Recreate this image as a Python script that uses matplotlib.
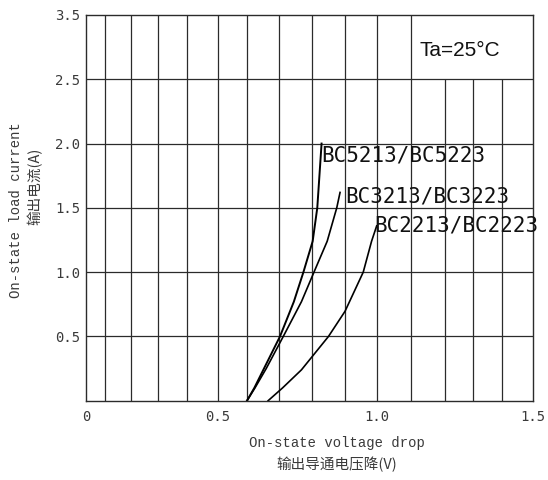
import numpy as np
import matplotlib
matplotlib.use('Agg')
import matplotlib.pyplot as plt

# 데이터 (datasheet 곡선에서 읽은 값)
volt_ticks = [0, 0.5, 1.0, 1.5]
volt_tick_labels = ['0', '0.5', '1.0', '1.5']
amp_ticks = [0.5, 1.0, 1.5, 2.0, 2.5, 3.5]
amp_tick_labels = ['0.5', '1.0', '1.5', '2.0', '2.5', '3.5']

grid_v_full = [0.072, 0.17, 0.273, 0.383, 0.5, 0.6, 0.7, 0.8, 0.9, 1.0, 1.1]
grid_v_short = [1.2, 1.3, 1.4]
grid_i = [0.5, 1.0, 1.5, 2.0, 2.5]

bc5213_v = [0.60, 0.623, 0.653, 0.703, 0.745, 0.774, 0.802, 0.816, 0.829]
bc5213_i = [0.0, 0.1, 0.25, 0.5, 0.77, 1.0, 1.24, 1.5, 2.0]
bc3213_v = [0.60, 0.625, 0.660, 0.713, 0.768, 0.806, 0.846, 0.875, 0.885]
bc3213_i = [0.0, 0.1, 0.25, 0.5, 0.77, 1.0, 1.24, 1.5, 1.62]
bc2213_v = [0.666, 0.711, 0.768, 0.850, 0.900, 0.957, 0.983, 0.999]
bc2213_i = [0.0, 0.1, 0.24, 0.5, 0.695, 1.0, 1.24, 1.36]

# 축 눈금 간격이 균일하지 않음 -> 구간별 선형 스케일
x_knots_val = [0, 0.5, 0.6, 0.7, 0.8, 0.9, 1.0, 1.1, 1.2, 1.3, 1.4, 1.5]
x_knots_pos = [0, 132, 161, 193, 226, 259, 291, 325, 359, 387, 416, 447]
y_knots_val = [0, 2.5, 3.5]
y_knots_pos = [0, 2.5, 3.0]

def fx(v):
    return np.interp(v, x_knots_val, x_knots_pos)
def fx_inv(p):
    return np.interp(p, x_knots_pos, x_knots_val)
def fy(v):
    return np.interp(v, y_knots_val, y_knots_pos)
def fy_inv(p):
    return np.interp(p, y_knots_pos, y_knots_val)

line_c = '#2b2b2b'
text_c = '#3a3a3a'

fig = plt.figure(figsize=(5.48, 4.80), dpi=100)
ax = fig.add_axes([86/548, 1 - 400.7/480, (533-86)/548, (400.7-15)/480])
ax.set_xscale('function', functions=(fx, fx_inv))
ax.set_yscale('function', functions=(fy, fy_inv))
ax.set_xlim(0, 1.5)
ax.set_ylim(0, 3.5)

for s in ax.spines.values():
    s.set_color(line_c)
    s.set_linewidth(1.0)

ax.vlines(grid_v_full, 0, 3.5, color=line_c, lw=0.9)
ax.vlines(grid_v_short, 0, 2.5, color=line_c, lw=0.9)
ax.hlines(grid_i, 0, 1.5, color=line_c, lw=0.9)

ax.plot(bc5213_v, bc5213_i, color='black', lw=1.4)
ax.plot(bc3213_v, bc3213_i, color='black', lw=1.2)
ax.plot(bc2213_v, bc2213_i, color='black', lw=1.2)

ax.text(0.829, 1.91, 'BC5213/BC5223', family='DejaVu Sans Mono', fontsize=15,
        color='#111111', ha='left', va='center')
ax.text(0.9, 1.59, 'BC3213/BC3223', family='DejaVu Sans Mono', fontsize=15,
        color='#111111', ha='left', va='center')
ax.text(0.991, 1.366, 'BC2213/BC2223', family='DejaVu Sans Mono', fontsize=15,
        color='#111111', ha='left', va='center')
ax.text(1.254, 2.95, 'Ta=25°C', family=['Liberation Sans', 'DejaVu Sans'],
        fontsize=15, color='#111111', ha='center', va='center')

ax.set_xticks(volt_ticks)
ax.set_xticklabels(volt_tick_labels)
ax.set_yticks(amp_ticks)
ax.set_yticklabels(amp_tick_labels)
ax.xaxis.set_minor_locator(matplotlib.ticker.NullLocator())
ax.yaxis.set_minor_locator(matplotlib.ticker.NullLocator())
ax.tick_params(length=0, labelsize=10, labelcolor=text_c)
ax.tick_params(axis='x', pad=7)
ax.tick_params(axis='y', pad=4)
for lab in ax.get_xticklabels() + ax.get_yticklabels():
    lab.set_family('DejaVu Sans Mono')

# 축 제목
fig.text(337/548, 1 - 443/480, 'On-state voltage drop', family='Liberation Mono',
         fontsize=10, color=text_c, ha='center', va='center')
fig.text(337/548, 1 - 464/480, '输出导通电压降(V)', family=['Noto Sans CJK SC', 'DejaVu Sans'],
         fontsize=10.5, color=text_c, ha='center', va='center')
fig.text(16/548, 1 - 210/480, 'On-state load current', family='Liberation Mono',
         fontsize=10, color=text_c, ha='center', va='center', rotation=90)
fig.text(35/548, 1 - 186/480, '输出电流(A)', family=['Noto Sans CJK SC', 'DejaVu Sans'],
         fontsize=10.5, color=text_c, ha='center', va='center', rotation=90)

fig.savefig('out.png', dpi=100)
